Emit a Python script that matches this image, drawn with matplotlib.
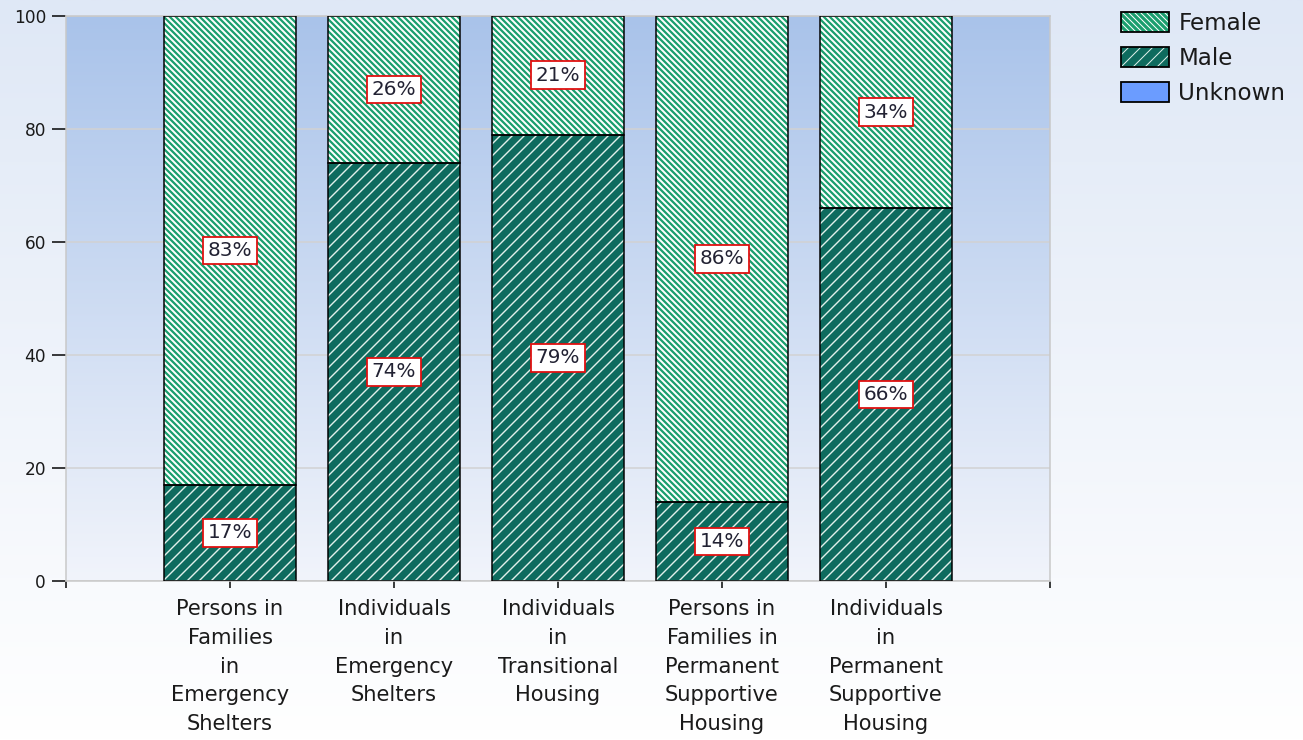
import numpy as np
import matplotlib
matplotlib.use("Agg")
import matplotlib.pyplot as plt
from matplotlib.patches import Patch
from matplotlib.legend_handler import HandlerTuple
from matplotlib.colors import LinearSegmentedColormap

categories = [
    "Persons in\nFamilies\nin\nEmergency\nShelters",
    "Individuals\nin\nEmergency\nShelters",
    "Individuals\nin\nTransitional\nHousing",
    "Persons in\nFamilies in\nPermanent\nSupportive\nHousing",
    "Individuals\nin\nPermanent\nSupportive\nHousing",
]
male = [17, 74, 79, 14, 66]
female = [83, 26, 21, 86, 34]
unknown = [0, 0, 0, 0, 0]
yticks = [0, 20, 40, 60, 80, 100]

DPI = 72
W, H = 1303, 740
fig = plt.figure(figsize=(W / DPI, H / DPI), dpi=DPI)

# figure background gradient
bg = fig.add_axes([0, 0, 1, 1], zorder=-10)
bg.axis("off")
gcm = LinearSegmentedColormap.from_list("g", ["#ffffff", "#dfe8f6"])
bg.imshow(np.linspace(0, 1, 256).reshape(-1, 1), cmap=gcm, aspect="auto",
          extent=[0, 1, 0, 1], origin="lower")
bg.set_xlim(0, 1); bg.set_ylim(0, 1)

ax = fig.add_axes([66 / W, 1 - 581 / H, (1050 - 66) / W, (581 - 16) / H])
ax.set_facecolor("none")
pcm = LinearSegmentedColormap.from_list("p", ["#f1f4fb", "#a9c3ea"])
ax.imshow(np.linspace(0, 1, 256).reshape(-1, 1), cmap=pcm, aspect="auto",
          extent=[0, 6, 0, 100], origin="lower", zorder=0)

x = np.arange(1, len(categories) + 1)
male_a = np.array(male, float)
female_a = np.array(female, float)
unk_a = np.array(unknown, float)

GREEN = "#1a9e6e"
TEAL = "#0e6b5e"
BLUE = "#6b9cff"
M_HATCH = "//"
F_HATCH = "\\\\\\\\"
F_HLW = 2.0
M_HLW = 1.4

def hatched_bar(xs, h, bottom, face, hatch, hcolor, hlw):
    with plt.rc_context({"hatch.linewidth": hlw}):
        bars = ax.bar(xs, h, 0.8, bottom=bottom, color=face, edgecolor=hcolor,
                      linewidth=0, hatch=hatch, zorder=2)
    for b in bars:
        if hasattr(b, "set_hatch_linewidth"):
            b.set_hatch_linewidth(hlw)
    ax.bar(xs, h, 0.8, bottom=bottom, facecolor="none", edgecolor="black",
           linewidth=1.5, zorder=3)
    return bars

hatched_bar(x, male_a, 0, TEAL, M_HATCH, "#e0f0ea", M_HLW)
hatched_bar(x, female_a, male_a, GREEN, F_HATCH, "white", F_HLW)
ax.bar(x, unk_a, 0.8, bottom=male_a + female_a, color=BLUE, linewidth=0, zorder=2)

# data labels
box = dict(boxstyle="square,pad=0.22", facecolor="white", edgecolor="#e01010", linewidth=1.8)
for xi, m, f in zip(x, male_a, female_a):
    for val, ctr in ((m, m / 2), (f, m + f / 2)):
        if val > 0:
            ax.text(xi, ctr, f"{int(val)}%", ha="center", va="center", fontsize=20,
                    color="#222233", bbox=box, zorder=5)

ax.set_xlim(0, 6)
ax.set_ylim(0, 100)
ax.set_yticks(yticks)
ax.set_yticklabels([str(v) for v in yticks], fontsize=17, color="#1a1a1a")
ax.set_xticks([0, 1, 2, 3, 4, 5, 6])
ax.set_xticklabels([""] + categories + [""], fontsize=21, color="#1a1a1a",
                   linespacing=1.55, va="top")
ax.tick_params(axis="y", length=14, width=1.5, color="black", pad=6, direction="out")
ax.tick_params(axis="x", length=7, width=1.5, color="black", pad=11, direction="out")
for s in ax.spines.values():
    s.set_color("#c8c8c8")
    s.set_linewidth(1.5)
ax.set_axisbelow(True)
ax.grid(axis="y", color="#d2d2d2", linewidth=1.5)

# legend
def lp(face, hatch, hcolor, hlw):
    p = Patch(facecolor=face, edgecolor=hcolor, linewidth=0, hatch=hatch)
    if hasattr(p, "set_hatch_linewidth"):
        p.set_hatch_linewidth(hlw)
    o = Patch(facecolor="none", edgecolor="black", linewidth=1.8)
    return (p, o)

handles = [lp(GREEN, F_HATCH, "white", F_HLW), lp(TEAL, M_HATCH, "#e0f0ea", M_HLW),
           lp(BLUE, None, BLUE, 0)]
leg = fig.legend(handles, ["Female", "Male", "Unknown"],
                 handler_map={tuple: HandlerTuple(ndivide=1, pad=0)},
                 loc="upper left", bbox_to_anchor=(1121 / W, 1 - 12 / H),
                 borderaxespad=0, borderpad=0,
                 frameon=False, fontsize=23, handlelength=2.1, handleheight=0.95,
                 labelspacing=0.52, handletextpad=0.4, labelcolor="#1a1a1a")

fig.savefig("out.png", dpi=DPI)
